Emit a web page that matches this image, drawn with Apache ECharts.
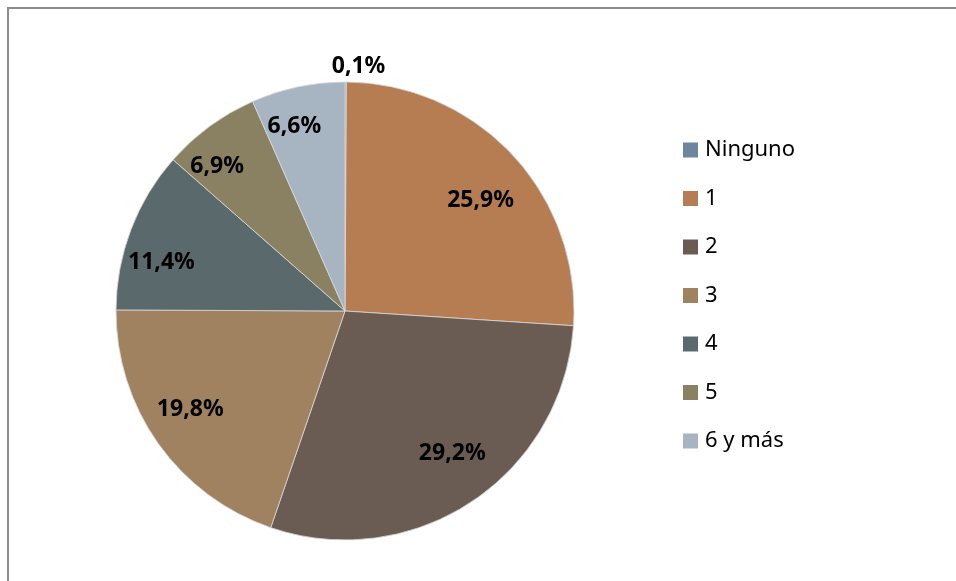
<!DOCTYPE html>
<html>
<head>
<meta charset="utf-8">
<script src="https://cdn.jsdelivr.net/npm/echarts@6/dist/echarts.min.js"></script>
<style>
  html, body { margin: 0; padding: 0; background: #fff; }
  #frame { position: absolute; left: 7px; top: 7px; width: 960px; height: 590px;
           border-top: 2px solid #8c8c8c; border-left: 2px solid #8c8c8c; }
  #chart { position: absolute; left: 0; top: 0; width: 956px; height: 581px; }
</style>
</head>
<body>
<div id="frame"></div>
<div id="chart"></div>
<script>
const names = ['Ninguno', '1', '2', '3', '4', '5', '6 y más'];
const values = [0.1, 25.9, 29.2, 19.8, 11.4, 6.9, 6.6];
const colors = ['#6E85A0', '#B67D53', '#6A5C52', '#A08160', '#5A696C', '#8A8162', '#A7B4C2'];
// small nudges so the labels sit where Excel put them
const labelNudge = [[-19, -12], [2, 14], [6, -9], [-6, -7], [-13, 16], [-20, 3], [-13, -6]];

const pieData = names.map((n, i) => ({ name: n, value: values[i], itemStyle: { color: colors[i] } }));
const labelData = names.map((n, i) => {
    const item = { name: n, value: values[i], label: { offset: labelNudge[i] } };
    if (i === 0) {
        item.label.position = 'outside';
    }
    return item;
});

const fmt = p => String(p.value.toFixed(1)).replace('.', ',') + '%';

const option = {
    animation: false,
    legend: {
        orient: 'vertical',
        left: 683,
        top: 139,
        padding: 0,
        icon: 'rect',
        itemWidth: 15,
        itemHeight: 15,
        itemGap: 26.5,
        selectedMode: false,
        data: names,
        itemStyle: { borderWidth: 0 },
        textStyle: {
            fontFamily: 'Noto Sans',
            fontSize: 22,
            color: '#000',
            lineHeight: 22,
            padding: [0, 0, 0, 2]
        }
    },
    series: [
        {
            type: 'pie',
            center: [345, 311],
            radius: [0, 229],
            startAngle: 90,
            silent: true,
            label: { show: false },
            labelLine: { show: false },
            itemStyle: { borderColor: '#d9d9d9', borderWidth: 0.8 },
            data: pieData
        },
        {
            // transparent ring used only to place the labels
            type: 'pie',
            center: [345, 311],
            radius: [130, 229],
            startAngle: 90,
            silent: true,
            legendHoverLink: false,
            itemStyle: { color: 'rgba(0,0,0,0)' },
            label: {
                show: true,
                position: 'inside',
                formatter: fmt,
                fontFamily: 'Noto Sans',
                fontWeight: 'bold',
                fontSize: 23,
                color: '#000'
            },
            labelLine: { show: false, length: 4, length2: 0 },
            data: labelData
        }
    ]
};
const chart = echarts.init(document.getElementById('chart'));
chart.setOption(option);
</script>
</body>
</html>
